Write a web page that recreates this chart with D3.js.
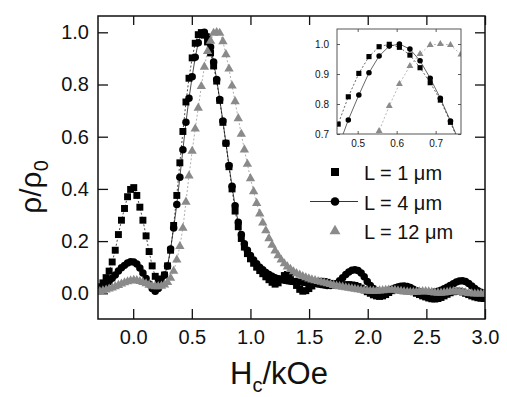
<!DOCTYPE html>
<html>
<head>
<meta charset="utf-8">
<script src="https://cdn.jsdelivr.net/npm/d3@7/dist/d3.min.js"></script>
<style>
  body { margin: 0; background: #fff; }
  svg text { font-family: "Liberation Sans", Arial, sans-serif; fill: #111; }
</style>
</head>
<body>
<div id="chart"></div>
<script>
// applied field Hc (kOe), one reading every ~26 Oe
var hField = [-0.310,-0.284,-0.258,-0.231,-0.205,-0.179,-0.153,-0.126,-0.100,-0.074,
  -0.048,-0.022,0.005,0.031,0.057,0.083,0.110,0.136,0.162,0.188,
  0.214,0.241,0.267,0.293,0.319,0.345,0.372,0.398,0.424,0.450,
  0.476,0.503,0.529,0.555,0.581,0.607,0.634,0.660,0.686,0.712,
  0.738,0.765,0.791,0.817,0.843,0.869,0.896,0.922,0.948,0.974,
  1.000,1.027,1.053,1.079,1.105,1.131,1.158,1.184,1.210,1.236,
  1.262,1.289,1.315,1.341,1.367,1.393,1.420,1.446,1.472,1.498,
  1.524,1.551,1.577,1.603,1.629,1.655,1.682,1.708,1.734,1.760,
  1.786,1.813,1.839,1.865,1.891,1.917,1.944,1.970,1.996,2.022,
  2.048,2.075,2.101,2.127,2.153,2.179,2.206,2.232,2.258,2.284,
  2.310,2.337,2.363,2.389,2.415,2.441,2.468,2.494,2.520,2.546,
  2.572,2.599,2.625,2.651,2.677,2.703,2.730,2.756,2.782,2.808,
  2.834,2.861,2.887,2.913,2.939,2.965,2.992,3.018];

// rho/rho0 for L = 1 um
var rhoL1 = [0.02,0.025,0.04,0.06,0.085,0.12,0.165,0.225,0.28,0.325,
  0.37,0.398,0.405,0.375,0.33,0.28,0.22,0.16,0.105,0.065,
  0.05,0.055,0.07,0.105,0.165,0.26,0.375,0.5,0.62,0.733,
  0.824,0.902,0.958,0.991,0.999,0.989,0.963,0.921,0.871,0.813,
  0.739,0.655,0.575,0.485,0.4,0.315,0.255,0.21,0.177,0.152,
  0.132,0.115,0.1,0.087,0.075,0.063,0.052,0.042,0.035,0.04,
  0.055,0.068,0.072,0.062,0.045,0.03,0.015,0.008,0.01,0.018,
  0.028,0.037,0.043,0.046,0.045,0.042,0.038,0.035,0.033,0.032,
  0.032,0.033,0.033,0.032,0.03,0.026,0.02,0.013,0.006,0.0,
  -0.006,-0.01,-0.012,-0.01,-0.005,0.003,0.01,0.017,0.022,0.025,
  0.024,0.02,0.013,0.006,0.0,-0.005,-0.01,-0.014,-0.018,-0.021,
  -0.022,-0.02,-0.016,-0.01,-0.004,0.002,0.006,0.008,0.008,0.005,
  0.0,-0.005,-0.01,-0.014,-0.017,-0.019,-0.02,-0.02];

// rho/rho0 for L = 4 um
var rhoL4 = [0.01,0.015,0.022,0.032,0.045,0.058,0.07,0.085,0.098,0.107,
  0.116,0.121,0.12,0.112,0.097,0.078,0.057,0.036,0.018,0.008,
  0.018,0.04,0.07,0.105,0.17,0.25,0.34,0.445,0.55,0.655,
  0.747,0.83,0.904,0.96,0.993,1.0,0.983,0.944,0.886,0.819,
  0.743,0.66,0.575,0.49,0.41,0.335,0.272,0.225,0.19,0.165,
  0.145,0.128,0.113,0.1,0.09,0.08,0.072,0.065,0.06,0.056,
  0.053,0.05,0.048,0.046,0.045,0.044,0.043,0.042,0.041,0.04,
  0.039,0.038,0.036,0.034,0.032,0.03,0.03,0.032,0.038,0.048,
  0.06,0.072,0.082,0.088,0.09,0.087,0.078,0.063,0.045,0.03,
  0.018,0.01,0.006,0.006,0.008,0.012,0.016,0.02,0.024,0.027,
  0.028,0.026,0.022,0.016,0.01,0.006,0.003,0.002,0.002,0.003,
  0.005,0.008,0.012,0.017,0.023,0.03,0.037,0.043,0.047,0.048,
  0.045,0.038,0.028,0.018,0.01,0.004,0.0,-0.003];

// rho/rho0 for L = 12 um
var rhoL12 = [0.005,0.007,0.01,0.013,0.017,0.021,0.026,0.031,0.036,0.041,
  0.045,0.048,0.05,0.049,0.046,0.042,0.037,0.032,0.028,0.026,
  0.026,0.028,0.033,0.042,0.058,0.085,0.128,0.18,0.25,0.35,
  0.45,0.545,0.63,0.71,0.793,0.867,0.927,0.967,0.997,1.0,
  0.997,0.965,0.915,0.86,0.795,0.735,0.67,0.61,0.55,0.495,
  0.44,0.39,0.345,0.305,0.27,0.24,0.21,0.185,0.163,0.145,
  0.128,0.114,0.102,0.092,0.083,0.076,0.07,0.065,0.06,0.056,
  0.052,0.049,0.046,0.043,0.04,0.037,0.034,0.031,0.028,0.026,
  0.024,0.022,0.02,0.018,0.016,0.014,0.012,0.011,0.01,0.009,
  0.009,0.009,0.01,0.011,0.012,0.013,0.013,0.012,0.01,0.008,
  0.006,0.005,0.004,0.004,0.005,0.006,0.007,0.007,0.006,0.004,
  0.002,0.001,0.001,0.002,0.004,0.006,0.007,0.007,0.006,0.004,
  0.002,0.0,-0.001,-0.002,-0.002,-0.002,-0.002,-0.002];

var seriesNames = ["L = 1 \u03bcm", "L = 4 \u03bcm", "L = 12 \u03bcm"];
var xTicks = [0, 0.5, 1.0, 1.5, 2.0, 2.5, 3.0];
var yTicks = [0, 0.2, 0.4, 0.6, 0.8, 1.0];
var insetXTicks = [0.5, 0.6, 0.7];
var insetYTicks = [0.7, 0.8, 0.9, 1.0];

var series = [
  {name: seriesNames[0], values: rhoL1, symbol: d3.symbolSquare, size: 48, color: "#000", dash: "2,2", legendLine: false},
  {name: seriesNames[1], values: rhoL4, symbol: d3.symbolCircle, size: 44, color: "#000", dash: null, legendLine: true},
  {name: seriesNames[2], values: rhoL12, symbol: d3.symbolTriangle, size: 38, color: "#8a8a8a", dash: "2,2", legendLine: false}
];
series.forEach(function (s) {
  s.points = hField.map(function (h, i) { return {x: h, y: s.values[i]}; });
});

var W = 507, H = 397;
var margin = {top: 16, right: 22, bottom: 78, left: 98};
var width = W - margin.left - margin.right,
    height = H - margin.top - margin.bottom;

var x = d3.scaleLinear().domain([-0.3, 3.0]).range([0, width]);
var y = d3.scaleLinear().domain([-0.0985, 1.0625]).range([height, 0]);

var svg = d3.select("#chart").append("svg")
  .attr("width", W)
  .attr("height", H);

var g = svg.append("g")
  .attr("transform", "translate(" + margin.left + "," + margin.top + ")");

svg.append("clipPath").attr("id", "clipMain")
  .append("rect").attr("width", width).attr("height", height);

// axes, ticks inward on all four sides
function styleAxis(sel) {
  sel.select(".domain").remove();
  sel.selectAll(".tick line").attr("stroke", "#111").attr("stroke-width", 1.3);
}

g.append("g")
  .attr("transform", "translate(0," + height + ")")
  .call(d3.axisBottom(x).tickValues(xTicks).tickFormat(d3.format(".1f")).tickSize(-10).tickPadding(11))
  .call(styleAxis)
  .selectAll("text").style("font-size", "20px").attr("fill", "#111");

g.append("g")
  .call(d3.axisTop(x).tickValues(xTicks).tickFormat("").tickSize(-9))
  .call(styleAxis);

g.append("g")
  .call(d3.axisLeft(y).tickValues(yTicks).tickFormat(d3.format(".1f")).tickSize(-10).tickPadding(9))
  .call(styleAxis)
  .selectAll("text").style("font-size", "20px").attr("fill", "#111");

g.append("g")
  .attr("transform", "translate(" + width + ",0)")
  .call(d3.axisRight(y).tickValues(yTicks).tickFormat("").tickSize(-10))
  .call(styleAxis);

// curves
function drawSeries(parent, xs, ys, scaleMarker, lineWidth) {
  var line = d3.line()
    .x(function (d) { return xs(d.x); })
    .y(function (d) { return ys(d.y); });

  series.forEach(function (s) {
    parent.append("path")
      .datum(s.points)
      .attr("d", line)
      .attr("fill", "none")
      .attr("stroke", s.color)
      .attr("stroke-width", lineWidth)
      .attr("stroke-dasharray", s.dash);
  });
  series.forEach(function (s) {
    parent.selectAll(null)
      .data(s.points)
      .enter().append("path")
      .attr("d", d3.symbol().type(s.symbol).size(s.size * scaleMarker))
      .attr("transform", function (d) { return "translate(" + xs(d.x) + "," + ys(d.y) + ")"; })
      .attr("fill", s.color);
  });
}

var plotArea = g.append("g").attr("clip-path", "url(#clipMain)");
drawSeries(plotArea, x, y, 1, 0.7);

g.append("rect")
  .attr("width", width)
  .attr("height", height)
  .attr("fill", "none")
  .attr("stroke", "#111")
  .attr("stroke-width", 1.5);

// axis titles
svg.append("text")
  .attr("transform", "translate(41,187) rotate(-90)")
  .attr("text-anchor", "middle")
  .style("font-size", "30px")
  .html('\u03c1/\u03c1<tspan dy="7" style="font-size:20px">0</tspan>');

svg.append("text")
  .attr("x", 279)
  .attr("y", 384)
  .attr("text-anchor", "middle")
  .style("font-size", "31px")
  .html('H<tspan dy="8" style="font-size:20px">c</tspan><tspan dy="-8">/kOe</tspan>');

// legend
var legend = g.append("g").attr("transform", "translate(" + (335 - margin.left) + "," + (172 - margin.top) + ")");
series.forEach(function (s, i) {
  var row = legend.append("g").attr("transform", "translate(0," + (i * 29.5) + ")");
  if (s.legendLine) {
    row.append("line")
      .attr("x1", -25).attr("x2", 23)
      .attr("stroke", s.color).attr("stroke-width", 0.8);
  }
  row.append("path")
    .attr("d", d3.symbol().type(s.symbol).size(s.size * 1.35))
    .attr("fill", s.color);
  row.append("text")
    .attr("x", 29)
    .attr("y", 8)
    .style("font-size", "20px")
    .text(s.name);
});

// inset: zoom on the main peak
var inset = {left: 337, top: 29, right: 461, bottom: 134};
var ix = d3.scaleLinear().domain([0.447, 0.765]).range([0, inset.right - inset.left]);
var iy = d3.scaleLinear().domain([0.7, 1.05]).range([inset.bottom - inset.top, 0]);
var ig = svg.append("g").attr("transform", "translate(" + inset.left + "," + inset.top + ")");
var iw = inset.right - inset.left, ih = inset.bottom - inset.top;

ig.append("rect").attr("width", iw).attr("height", ih).attr("fill", "#fff");
svg.append("clipPath").attr("id", "clipInset")
  .append("rect").attr("width", iw).attr("height", ih);

var insetArea = ig.append("g").attr("clip-path", "url(#clipInset)");
drawSeries(insetArea, ix, iy, 0.55, 0.6);

function styleInset(sel) {
  sel.select(".domain").remove();
  sel.selectAll(".tick line").attr("stroke", "#333").attr("stroke-width", 0.8);
  sel.selectAll("text").style("font-size", "10px").attr("fill", "#222");
}
ig.append("g").attr("transform", "translate(0," + ih + ")")
  .call(d3.axisBottom(ix).tickValues(insetXTicks).tickFormat(d3.format(".1f")).tickSize(-3).tickPadding(6))
  .call(styleInset);
ig.append("g")
  .call(d3.axisTop(ix).tickValues(insetXTicks).tickFormat("").tickSize(-3))
  .call(styleInset);
ig.append("g")
  .call(d3.axisLeft(iy).tickValues(insetYTicks).tickFormat(d3.format(".1f")).tickSize(-3).tickPadding(8))
  .call(styleInset);
ig.append("g").attr("transform", "translate(" + iw + ",0)")
  .call(d3.axisRight(iy).tickValues(insetYTicks).tickFormat("").tickSize(-3))
  .call(styleInset);

ig.append("rect")
  .attr("width", iw)
  .attr("height", ih)
  .attr("fill", "none")
  .attr("stroke", "#444")
  .attr("stroke-width", 0.9);
</script>
</body>
</html>
